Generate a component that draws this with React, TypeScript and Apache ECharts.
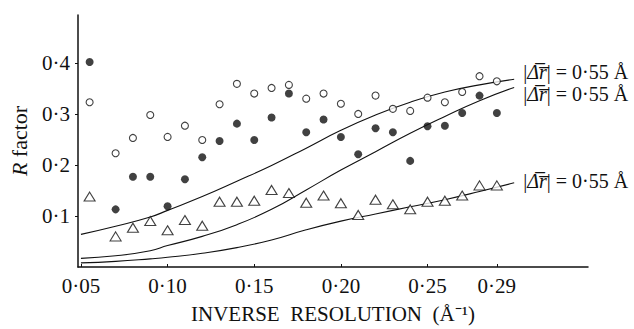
import React, { useEffect, useRef } from "react";
import * as echarts from "echarts";

const pointX = [0.055, 0.07, 0.08, 0.09, 0.10, 0.11, 0.12, 0.13, 0.14, 0.15, 0.16, 0.17, 0.18, 0.19, 0.20, 0.21, 0.22, 0.23, 0.24, 0.25, 0.26, 0.27, 0.28, 0.29];
const openY = [0.323, 0.223, 0.253, 0.298, 0.255, 0.277, 0.249, 0.319, 0.359, 0.34, 0.351, 0.357, 0.33, 0.34, 0.32, 0.30, 0.336, 0.31, 0.306, 0.332, 0.323, 0.343, 0.374, 0.364];
const filledY = [0.402, 0.113, 0.177, 0.177, 0.119, 0.172, 0.215, 0.247, 0.281, 0.249, 0.293, 0.34, 0.264, 0.289, 0.255, 0.221, 0.272, 0.264, 0.208, 0.276, 0.277, 0.302, 0.336, 0.302];
const triY = [0.138, 0.06, 0.077, 0.09, 0.072, 0.092, 0.081, 0.128, 0.128, 0.13, 0.151, 0.145, 0.126, 0.14, 0.125, 0.102, 0.132, 0.123, 0.113, 0.128, 0.13, 0.14, 0.16, 0.16];

const curveX = [0.05, 0.07, 0.09, 0.10, 0.12, 0.14, 0.16, 0.18, 0.20, 0.22, 0.24, 0.26, 0.28, 0.30];
const curve1Y = [0.064, 0.08, 0.098, 0.111, 0.138, 0.168, 0.199, 0.233, 0.268, 0.298, 0.323, 0.343, 0.357, 0.368];
const curve2Y = [0.017, 0.022, 0.032, 0.042, 0.06, 0.083, 0.113, 0.151, 0.19, 0.226, 0.262, 0.295, 0.326, 0.352];
const curve3Y = [0.008, 0.011, 0.016, 0.019, 0.027, 0.038, 0.053, 0.073, 0.09, 0.104, 0.118, 0.132, 0.148, 0.165];

const xTicks = [0.05, 0.10, 0.15, 0.20, 0.25, 0.29];
const yTicks = [0.1, 0.2, 0.3, 0.4];
const curveLabel = "0·55 Å";

const FONT = "Liberation Serif";
const INK = "#111";

const pairs = (xs: number[], ys: number[]) => xs.map((x, i) => [x, ys[i]]);

const endLabel = (offset: number[]) => ({
  show: true,
  distance: 9,
  offset,
  formatter: "|{i|Δ\u0305r\u0305}| = " + curveLabel,
  color: INK,
  fontFamily: FONT,
  fontSize: 20,
  lineHeight: 17,
  rich: {
    i: { fontStyle: "italic", fontFamily: FONT, fontSize: 20, lineHeight: 17, color: INK },
  },
});

export default function App() {
  const ref = useRef<HTMLDivElement>(null);
  useEffect(() => {
    const chart = echarts.init(ref.current!, null, { renderer: "svg" });
    const lineSeries = (ys: number[], off: number[]) => ({
      type: "line",
      data: pairs(curveX, ys),
      smooth: true,
      showSymbol: false,
      lineStyle: { color: INK, width: 1.1 },
      endLabel: endLabel(off),
      silent: true,
      z: 1,
    });
    chart.setOption({
      animation: false,
      backgroundColor: "#fff",
      textStyle: { fontFamily: FONT, color: INK },
      grid: { left: 70, right: 46, top: 15, bottom: 52 },
      xAxis: {
        type: "value",
        min: 0.0483,
        max: 0.3426,
        name: "INVERSE  RESOLUTION  (Å⁻¹)",
        nameLocation: "middle",
        nameGap: 36,
        nameTextStyle: { fontFamily: FONT, fontSize: 21, color: INK },
        axisLine: { show: true, lineStyle: { color: INK, width: 1.5 } },
        axisTick: { show: true, inside: true, length: 3, customValues: xTicks, lineStyle: { color: INK } },
        axisLabel: {
          customValues: xTicks,
          formatter: (v: number) => v.toFixed(2).replace(".", "·"),
          fontFamily: FONT,
          fontSize: 21,
          color: INK,
          margin: 8,
        },
        splitLine: { show: false },
      },
      yAxis: {
        type: "value",
        min: 0,
        max: 0.494,
        name: "{i|R} factor",
        nameLocation: "middle",
        nameGap: 48,
        nameTextStyle: {
          fontFamily: FONT,
          fontSize: 22,
          color: INK,
          rich: { i: { fontStyle: "italic", fontFamily: FONT, fontSize: 22, color: INK } },
        },
        axisLine: { show: true, lineStyle: { color: INK, width: 1.5 } },
        axisTick: { show: true, length: 3, customValues: yTicks, lineStyle: { color: INK } },
        axisLabel: {
          customValues: yTicks,
          formatter: (v: number) => v.toFixed(1).replace(".", "·"),
          fontFamily: FONT,
          fontSize: 21,
          color: INK,
          margin: 8,
        },
        splitLine: { show: false },
      },
      series: [
        lineSeries(curve1Y, [0, -7]),
        lineSeries(curve2Y, [0, 7]),
        lineSeries(curve3Y, [0, -2]),
        {
          type: "scatter",
          data: pairs(pointX, openY),
          symbol: "circle",
          symbolSize: 7,
          itemStyle: { color: "#fff", borderColor: INK, borderWidth: 1.1 },
          z: 3,
        },
        {
          type: "scatter",
          data: pairs(pointX, filledY),
          symbol: "circle",
          symbolSize: 8,
          itemStyle: { color: INK },
          z: 3,
        },
        {
          type: "scatter",
          data: pairs(pointX, triY),
          symbol: "triangle",
          symbolSize: [11, 9],
          itemStyle: { color: "#fff", borderColor: INK, borderWidth: 1.1 },
          z: 3,
        },
      ],
    });
    return () => chart.dispose();
  }, []);
  return (
    <div
      ref={ref}
      style={{ position: "absolute", left: 0, top: 0, width: 634, height: 329 }}
    />
  );
}
